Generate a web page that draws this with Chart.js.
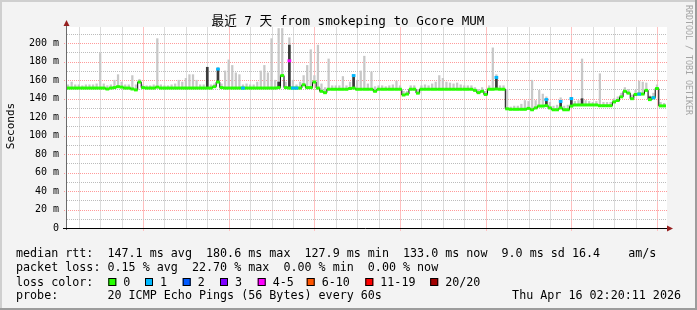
<!DOCTYPE html>
<html>
<head>
<meta charset="utf-8">
<script src="https://cdn.jsdelivr.net/npm/chart.js@4.4.1/dist/chart.umd.min.js"></script>
<style>
  html, body { margin: 0; padding: 0; background: #f3f3f3; }
  #myChart { display: block; }
</style>
</head>
<body>
<canvas id="myChart" width="697" height="310"></canvas>
<script>
// median rtt (ms), one value per hour, hour 3 of Thu 09 Apr onwards
const thu09 = [151.5,151.5,151.5,151.5,151.5,151.5,151.5,151.5,151.5,151.5,151.5,150.5,151.5,152,153,152.5,151.5,151.5,150.5,149.5,158];
const fri10 = [152,151.5,151.5,151.5,152.5,151.5,151.5,151.5,151.5,151.5,151.5,151.5,151.5,151.5,151.5,151.5,151.5,151.5,151.5,151.5,153,158,152,151.5];
const sat11 = [151.5,151.5,151.5,151.5,151.5,151.5,151.5,151.5,151.5,151.5,151.5,151.5,151.5,151.5,152,165,152,151.5,151.5,151.5,151.5,155,152,152];
const sun12 = [158,151.5,148,146.5,150.2,150.2,150.2,150.2,150.2,150.2,151,151.5,150.2,150.2,150.2,150.2,150.2,148,150.2,150.2,150.2,150.2,150.2,150.2];
const mon13 = [150.2,144,145,150.2,150.2,146,150.2,150.2,150.2,150.2,150.2,150.2,150.2,150.2,150.2,150.2,150.2,150.2,150.2,150.2,150.2,149,146.5,148];
const tue14 = [144.5,150.2,150.2,150.5,150.2,150.2,129,128.5,128.5,128.5,128.5,128.5,129.5,128,130,132,132,132.5,130,128,128,130,128,128];
const wed15 = [132,133.2,133.2,133.2,133.2,133.2,133.2,133.2,132.4,132.4,132.4,132.4,136.5,138,142,148,146,140,144.5,145,145,149,139,141];
const thu16 = [151,132.2,132.2];

// top of the smoke (slowest ping) per hour
const thu09Max = [155,158,155,155,154,155,155,155,156,189,156,154,155,160,166,158,155,155,165,155,161];
const fri10Max = [155,154,154,155,205,155,154,154,155,156,160,158,162,166,166,160,155,155,174,155,156,174,156,170];
const sat11Max = [182,176,168,166,155,156,155,155,158,170,176,168,205,160,216,216,158,206,160,155,158,165,176,193];
const sun12Max = [165,198,156,152,183,154,154,154,164,154,158,166,160,170,186,156,169,153,154,154,153,154,155,159];
const mon13Max = [154,148,148,154,154,150,154,155,154,156,158,165,162,158,157,156,157,155,154,154,154,152,150,152];
const tue14Max = [148,154,195,166,154,154,150,131,132,132,134,138,137,160,138,149,145,142,136,132,133,141,132,133];
const wed15Max = [141,137,138,183,138,137,136,137,167,136,136,136,140,142,146,152,150,144,149,159,158,157,143,146];
const thu16Max = [155,136,135];

// dense (dark) smoke columns
const darkHours = [42, 45, 62, 65, 83, 123, 137, 141, 144, 147, 166];
const darkTops = [174, 172, 158, 198, 165, 163, 139, 137, 141, 140, 142];

// samples with packet loss
const lossHours = [45, 52, 65, 66, 67, 83, 123, 137, 141, 144, 163, 167];
const lossValues = [172, 151.5, 181, 151.5, 151.5, 165, 163, 139, 137, 140, 145, 141];
const lossLevel = [1, 1, 4, 1, 1, 1, 1, 1, 1, 1, 1, 1];

const lossNames = ['0', '1', '2', '3', '4-5', '6-10', '11-19', '20/20'];
const lossColors = ['#26ff00', '#00b8ff', '#0059ff', '#7e00ff', '#ff00ff', '#ff5500', '#ff0000', '#a10000'];

const dayLabels = ['Thu 09 Apr', 'Fri 10 Apr', 'Sat 11 Apr', 'Sun 12 Apr', 'Mon 13 Apr', 'Tue 14 Apr', 'Wed 15 Apr'];
const xTickHours = [];
for (let h = 6; h <= 168; h += 6) xTickHours.push(h);
const yTickValues = [];
for (let v = 0; v <= 210; v += 10) yTickValues.push(v);

const FIRST_HOUR = 3;
const medianAll = [].concat(thu09, fri10, sat11, sun12, mon13, tue14, wed15, thu16);
const maxAll = [].concat(thu09Max, fri10Max, sat11Max, sun12Max, mon13Max, tue14Max, wed15Max, thu16Max);

const medianPts = medianAll.map((v, i) => ({ x: FIRST_HOUR + i, y: v }));
const smokePts = maxAll.map((v, i) => ({ x: FIRST_HOUR + i, y: [medianAll[i], v] }));
const darkPts = darkHours.map((h, i) => ({ x: h, y: [medianAll[h - FIRST_HOUR], darkTops[i]] }));
const lossPts = lossHours.map((h, i) => ({ x: h, y: lossValues[i] }));

const MONO = '"DejaVu Sans Mono"';
const RED_GRID = '#ff9a9a';
const GRAY_GRID = '#bcbcbc';
const RED_VGRID = '#ffc0c0';
const GRAY_VGRID = '#dcdcdc';

function dotsH(c, y, x0, x1) {
  for (let x = x0; x < x1; x += 2) c.fillRect(x, y, 1, 1);
}

const frame = {
  id: 'frame',
  beforeDraw(chart) {
    const c = chart.ctx, a = chart.chartArea;
    c.save();
    c.fillStyle = '#f3f3f3';
    c.fillRect(0, 0, 697, 310);
    c.fillStyle = '#cfcfcf';
    c.fillRect(0, 0, 697, 2);
    c.fillRect(0, 0, 2, 310);
    c.fillStyle = '#9c9c9c';
    c.fillRect(0, 308, 697, 2);
    c.fillRect(695, 0, 2, 310);
    c.fillStyle = '#ffffff';
    c.fillRect(a.left, a.top, a.right - a.left, a.bottom - a.top);
    c.restore();
  },
  beforeDatasetsDraw(chart) {
    // grid, placed through the chart scales
    const c = chart.ctx, a = chart.chartArea;
    const xs = chart.scales.x, ys = chart.scales.y;
    const top = Math.round(a.top), bottom = Math.round(a.bottom);
    const left = Math.round(a.left), right = Math.round(a.right);
    c.save();
    xTickHours.forEach(h => {
      const px = Math.round(xs.getPixelForValue(h));
      const major = h % 24 === 0;
      c.fillStyle = major ? RED_VGRID : GRAY_VGRID;
      c.fillRect(px, top, 1, bottom - top + (major ? 3 : 0));
    });
    yTickValues.forEach(v => {
      if (v === 0) return;
      const py = Math.round(ys.getPixelForValue(v));
      const major = v % 20 === 0;
      c.fillStyle = major ? RED_GRID : GRAY_GRID;
      dotsH(c, py, left - (major ? 3 : 0), right);
    });
    c.restore();
  },
  afterDatasetsDraw(chart) {
    const c = chart.ctx, a = chart.chartArea;
    c.save();
    c.strokeStyle = '#6a6a6a';
    c.lineWidth = 1;
    c.beginPath();
    c.moveTo(a.left - 0.5, a.top - 5);
    c.lineTo(a.left - 0.5, a.bottom + 2);
    c.stroke();
    c.strokeStyle = '#000';
    c.beginPath();
    c.moveTo(a.left - 4, a.bottom + 0.5);
    c.lineTo(a.right + 1, a.bottom + 0.5);
    c.stroke();
    c.fillStyle = '#962020';
    c.beginPath();
    c.moveTo(a.left - 3.5, a.top - 1);
    c.lineTo(a.left + 2.5, a.top - 1);
    c.lineTo(a.left - 0.5, a.top - 7);
    c.closePath();
    c.fill();
    c.beginPath();
    c.moveTo(a.right, a.bottom - 2.5);
    c.lineTo(a.right, a.bottom + 3.5);
    c.lineTo(a.right + 6, a.bottom + 0.5);
    c.closePath();
    c.fill();
    c.restore();
  },
  afterDraw(chart) {
    const c = chart.ctx;
    c.save();
    c.fillStyle = '#000';
    c.font = '12.6px ' + MONO + ', "Noto Sans CJK SC"';
    c.textAlign = 'center';
    c.textBaseline = 'alphabetic';
    c.fillText('最近 7 天 from smokeping to Gcore MUM', 348, 25);
    c.save();
    c.translate(11, 126);
    c.rotate(-Math.PI / 2);
    c.font = '11px ' + MONO;
    c.textBaseline = 'middle';
    c.fillText('Seconds', 0, 0);
    c.restore();
    c.save();
    c.translate(688, 60);
    c.rotate(Math.PI / 2);
    c.font = '8.3px ' + MONO;
    c.fillStyle = '#a4a4a4';
    c.textBaseline = 'middle';
    c.fillText('RRDTOOL / TOBI OETIKER', 0, 0);
    c.restore();
    // legend
    c.font = '11.7px ' + MONO;
    c.textAlign = 'left';
    c.textBaseline = 'middle';
    c.fillText('median rtt:  147.1 ms avg  180.6 ms max  127.9 ms min  133.0 ms now  9.0 ms sd 16.4    am/s', 16, 254);
    c.fillText('packet loss: 0.15 % avg  22.70 % max  0.00 % min  0.00 % now', 16, 268.3);
    c.fillText('loss color:', 16, 282.5);
    const boxX = [108.3, 145, 182.7, 220, 257.7, 306.7, 365.3, 430.2];
    lossNames.forEach((name, i) => {
      c.fillStyle = lossColors[i];
      c.fillRect(boxX[i], 278, 8, 8);
      c.strokeStyle = '#000';
      c.lineWidth = 1;
      c.strokeRect(boxX[i] + 0.5, 278.5, 7, 7);
      c.fillStyle = '#000';
      c.fillText(name, boxX[i] + 15, 282.5);
    });
    c.fillText('probe:       20 ICMP Echo Pings (56 Bytes) every 60s', 16, 296);
    c.textAlign = 'right';
    c.fillText('Thu Apr 16 02:20:11 2026', 681, 296);
    c.restore();
  }
};

Chart.defaults.font.family = MONO;
Chart.defaults.color = '#000';

let ctx = document.querySelector('#myChart').getContext('2d');
let myChart = new Chart(ctx, {
  type: 'line',
  data: {
    datasets: [
      { label: 'loss', data: lossPts, showLine: false, pointStyle: 'line', pointRadius: 1.85, pointBorderWidth: 3,
        pointBorderColor: lossLevel.map(l => lossColors[l]), pointBackgroundColor: lossLevel.map(l => lossColors[l]), pointHoverRadius: 0 },
      { label: 'median', data: medianPts, showLine: false, pointStyle: 'line', pointRadius: 1.85, pointBorderWidth: 3,
        pointBorderColor: lossColors[0], pointBackgroundColor: lossColors[0], pointHoverRadius: 0 },
      { label: 'median step', data: medianPts, stepped: 'middle', borderColor: '#000', borderWidth: 1, pointRadius: 0, fill: false },
      { type: 'bar', label: 'dense smoke', data: darkPts, grouped: false, barThickness: 2, backgroundColor: '#3a3a3a', borderWidth: 0 },
      { type: 'bar', label: 'smoke', data: smokePts, grouped: false, barThickness: 1.6, backgroundColor: '#c8c8c8', borderWidth: 0 }
    ]
  },
  options: {
    responsive: false,
    animation: false,
    devicePixelRatio: 1,
    events: [],
    layout: { padding: { left: 0, right: 30, top: 27, bottom: 82 } },
    plugins: { legend: { display: false }, tooltip: { enabled: false }, title: { display: false } },
    scales: {
      x: {
        type: 'linear', min: 2.7, max: 170.8,
        offset: false,
        afterBuildTicks: (axis) => { axis.ticks = xTickHours.map(v => ({ value: v })); },
        afterFit: (axis) => { axis.height = 0; },
        grid: { display: false, drawTicks: false, offset: false },
        border: { display: false },
        ticks: { autoSkip: false, maxRotation: 0, minRotation: 0, padding: 4, font: { size: 10, family: MONO }, color: '#000',
          callback: (v) => v % 24 === 12 ? dayLabels[(v - 12) / 24] : '' }
      },
      y: {
        min: 0, max: 217.6,
        afterBuildTicks: (axis) => { axis.ticks = yTickValues.map(v => ({ value: v })); },
        afterFit: (axis) => { axis.width = 67; },
        grid: { display: false, drawTicks: false },
        border: { display: false },
        ticks: { autoSkip: false, padding: 8, font: { size: 10, family: MONO }, color: '#000',
          callback: (v) => v % 20 === 0 ? (v === 0 ? '0' : v + ' m') : '' }
      }
    }
  },
  plugins: [frame]
});
</script>
</body>
</html>
